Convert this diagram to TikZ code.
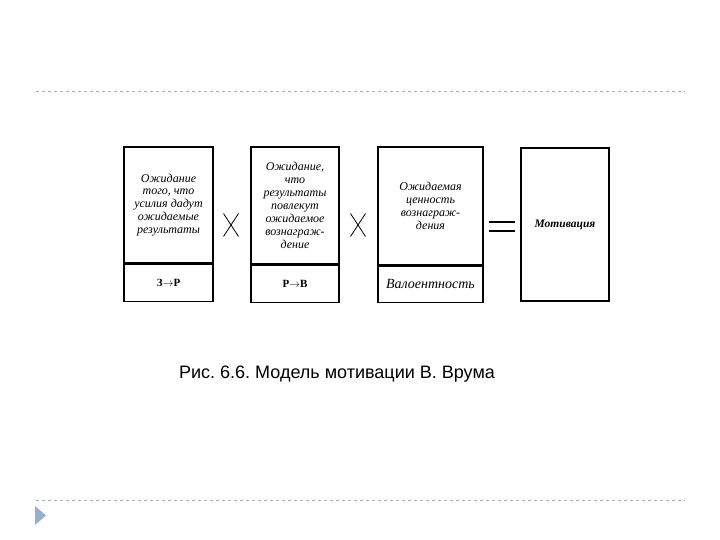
\documentclass[tikz,border=0pt]{standalone}
\usepackage{fontspec}
\setmainfont{Liberation Serif}
\newfontfamily\capfont{Liberation Sans}
\usetikzlibrary{positioning,calc}
\frenchspacing

\definecolor{rulegray}{RGB}{160,174,190}
\definecolor{bulletblue}{RGB}{150,176,204}

\tikzset{
    upper/.style={draw, line width=1.2pt, inner sep=0pt, align=center,
        font=\fontsize{12}{12.9}\selectfont\itshape},
    lower/.style={draw, line width=1.2pt, inner sep=0pt, minimum height=37pt,
        font=\fontsize{11}{12}\selectfont\bfseries},
    sign/.style={line width=0.8pt},
}

\begin{document}
\begin{tikzpicture}[x=1pt, y=-1pt]
    %
    \useasboundingbox (0,0) rectangle (720,540);

    %
    \draw[rulegray, dashed, line width=0.8pt] (36,91) -- (685,91);
    \draw[rulegray, dashed, line width=0.8pt] (36,500) -- (685,500);
    \fill[bulletblue] (35,506) -- (46,515.5) -- (35,525) -- cycle;

    %
    \node[upper, minimum width=89pt, minimum height=116pt] (effort) at (168.5,205)
        {Ожидание\\того, что\\усилия дадут\\ожидаемые\\результаты};
    \node[lower, minimum width=89pt, below=0pt of effort] (ep) {З$\to$Р};

    %
    \node[upper, minimum width=88pt, minimum height=117pt] (reward) at (295,205.5)
        {Ожидание,\\что\\результаты\\повлекут\\ожидаемое\\вознаграж-\\дение};
    \node[lower, minimum width=88pt, below=0pt of reward] (pv) {Р$\to$В};

    %
    \node[upper, minimum width=105pt, minimum height=118pt] (value) at (430.5,206)
        {Ожидаемая\\ценность\\вознаграж-\\дения};
    \node[lower, minimum width=105pt, minimum height=36pt, below=0pt of value,
        font=\fontsize{14}{14}\selectfont\itshape] (valence) {Валоентность};

    %
    \node[upper, minimum width=88pt, minimum height=153pt,
        font=\fontsize{11.5}{12}\selectfont\bfseries\itshape] (motiv) at (565,224.5)
        {Мотивация};

    %
    \coordinate (x1) at (231,225);
    \coordinate (x2) at (358,225);
    \draw[sign] ($(x1)+(-7.5,-11.5)$) -- ($(x1)+(7.5,11.5)$);
    \draw[sign] ($(x1)+(7.5,-11.5)$) -- ($(x1)+(-7.5,11.5)$);
    \draw[sign] ($(x2)+(-7.5,-11.5)$) -- ($(x2)+(7.5,11.5)$);
    \draw[sign] ($(x2)+(7.5,-11.5)$) -- ($(x2)+(-7.5,11.5)$);

    %
    \draw[line width=1.6pt] (489,222) -- (515,222);
    \draw[line width=1.6pt] (489,231) -- (515,231);

    %
    \node[font=\capfont\fontsize{18}{20}\selectfont] (caption) at (337,374)
        {Рис. 6.6. Модель мотивации В. Врума};

\end{tikzpicture}
\end{document}
